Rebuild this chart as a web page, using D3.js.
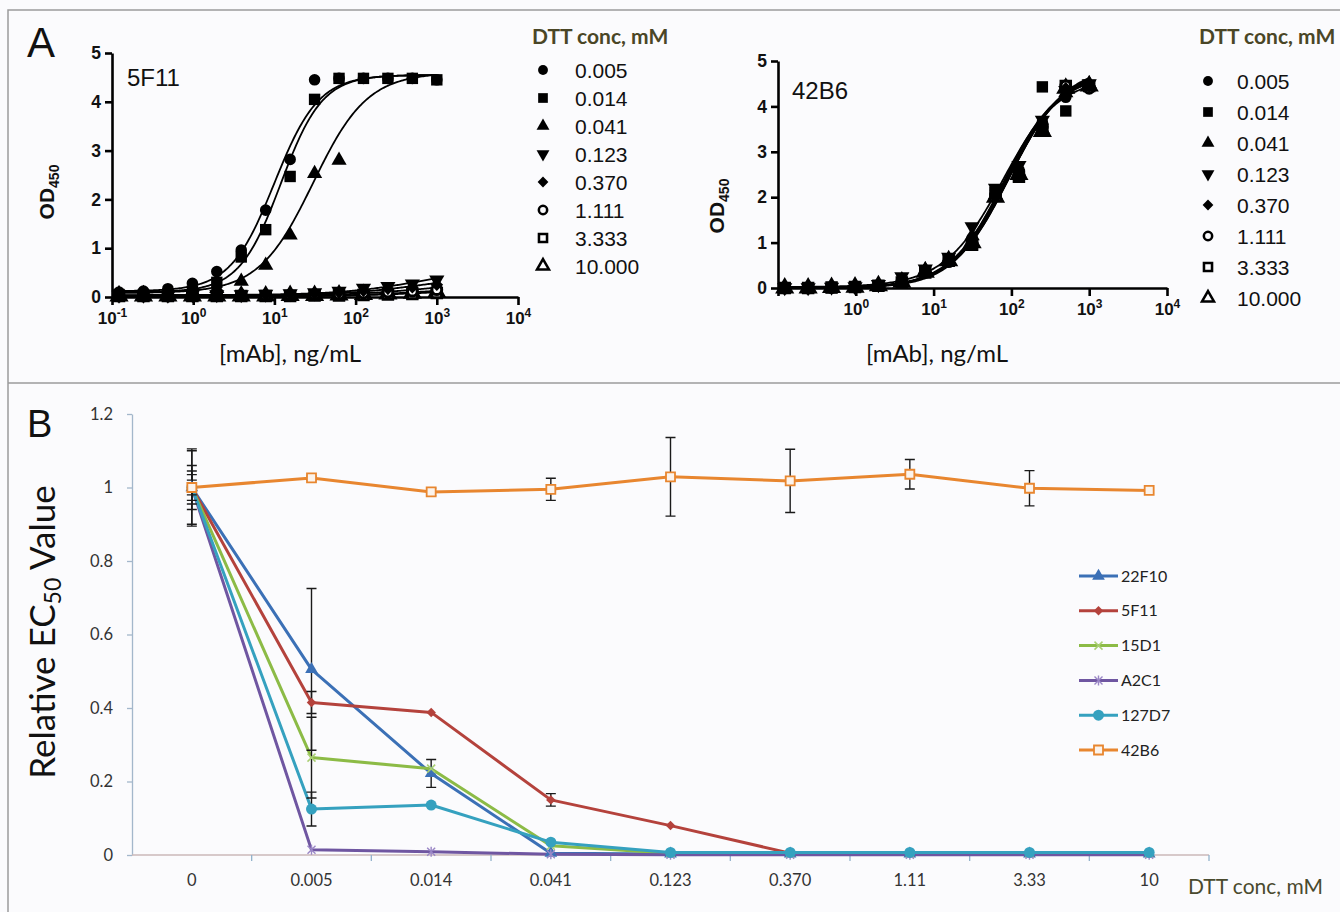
<!DOCTYPE html>
<html><head><meta charset="utf-8">
<script src="https://cdn.jsdelivr.net/npm/d3@7"></script>
<style>body{margin:0;background:#fbfbfd}svg{display:block}</style>
</head><body>
<svg id="c" width="1340" height="912"></svg>
<script>
// ---------------- DATA ----------------
// Panel A: antibody concentrations (ng/mL), 2-fold dilutions
const conc = [0.122, 0.244, 0.488, 0.977, 1.953, 3.906, 7.813, 15.625, 31.25, 62.5, 125, 250, 500, 1000];
const dttLabels = ["0.005", "0.014", "0.041", "0.123", "0.370", "1.111", "3.333", "10.000"];
const dttMarkers = ["circle", "square", "triangle", "triangleDown", "diamond", "openCircle", "openSquare", "openTriangle"];

// 5F11 OD450 values per DTT concentration (null = point hidden under another mark)
const f11_0005 = [0.10, 0.12, 0.17, 0.28, 0.52, 0.96, 1.78, 2.82, 4.45, 4.48, 4.48, 4.48, 4.48, 4.45];
const f11_0014 = [0.05, 0.05, 0.06, 0.12, 0.30, 0.82, 1.38, 2.47, 4.05, 4.48, 4.48, 4.48, 4.48, 4.45];
const f11_0041 = [0.06, 0.07, 0.09, 0.12, 0.17, 0.32, 0.65, 1.27, 2.53, 2.80, null, null, null, null];
const f11_0123 = [0.04, 0.04, 0.04, 0.05, 0.05, 0.05, 0.06, 0.07, 0.09, 0.12, 0.18, 0.22, 0.27, 0.35];
const f11_0370 = [0.03, 0.03, 0.03, 0.04, 0.04, 0.04, 0.05, 0.06, 0.07, 0.10, 0.13, 0.17, 0.20, 0.25];
const f11_1111 = [0.02, 0.02, 0.02, 0.03, 0.03, 0.03, 0.03, 0.04, 0.05, 0.06, 0.08, 0.10, 0.12, 0.15];
const f11_3333 = [0.02, 0.02, 0.02, 0.02, 0.02, 0.02, 0.02, 0.02, 0.03, 0.03, 0.04, 0.05, 0.06, 0.08];
const f11_10000 = [0.02, 0.02, 0.02, 0.02, 0.02, 0.02, 0.02, 0.03, 0.03, 0.04, 0.05, 0.06, 0.08, 0.10];
// 4-parameter logistic fits [bottom, top, EC50, hill]
const f11_fits = [[0.12, 4.55, 10, 1.6], [0.10, 4.55, 12, 1.7], [0.08, 4.6, 30, 1.3], [0.04, 0.6, 600, 0.9],
                  [0.03, 0.45, 600, 0.9], [0.02, 0.3, 600, 0.9], [0.01, 0.15, 600, 0.9], [0.01, 0.2, 600, 0.9]];

// 42B6 OD450 values per DTT concentration
const b6_0005 = [0.00, 0.01, 0.01, 0.02, 0.06, 0.15, 0.38, 0.65, 1.10, 2.15, 2.60, 3.65, 4.20, 4.45];
const b6_0014 = [0.00, 0.00, 0.01, 0.02, 0.05, 0.12, 0.35, 0.60, 1.00, 2.10, 2.50, 4.43, 3.90, 4.45];
const b6_0041 = [0.00, 0.00, 0.01, 0.02, 0.06, 0.16, 0.40, 0.62, 1.15, 2.05, 2.55, 3.50, 4.30, 4.50];
const b6_0123 = [0.01, 0.01, 0.02, 0.03, 0.08, 0.25, 0.42, 0.68, 1.35, 2.20, 2.70, 3.70, 4.35, 4.50];
const b6_0370 = [0.00, 0.00, 0.01, 0.02, 0.06, 0.14, 0.36, 0.60, 1.05, 2.00, 2.60, 3.60, 4.40, 4.45];
const b6_1111 = [0.00, 0.00, 0.01, 0.02, 0.05, 0.13, 0.36, 0.58, 1.00, 2.05, 2.50, 3.55, 4.45, 4.40];
const b6_3333 = [0.00, 0.00, 0.01, 0.02, 0.05, 0.12, 0.34, 0.60, 0.95, 2.10, 2.45, 3.50, 4.45, 4.45];
const b6_10000 = [0.00, 0.00, 0.01, 0.02, 0.05, 0.13, 0.35, 0.60, 1.00, 2.00, 2.50, 3.45, 4.40, 4.45];
const b6_fits = [[0.0, 4.7, 80, 1.25], [0.0, 4.6, 80, 1.3], [0.0, 4.8, 85, 1.2], [0.02, 4.75, 78, 1.15],
                 [0.0, 4.8, 88, 1.2], [0.0, 4.85, 92, 1.2], [0.0, 4.9, 95, 1.2], [0.0, 4.85, 93, 1.2]];

// Panel B: relative EC50
const dttCats = ["0", "0.005", "0.014", "0.041", "0.123", "0.370", "1.11", "3.33", "10"];
const bNames = ["22F10", "5F11", "15D1", "A2C1", "127D7", "42B6"];
const rel22F10 = [1, 0.505, 0.222, 0.005, 0.003, 0.003, 0.003, 0.003, 0.003];
const err22F10 = [0.10, 0.22, 0.038, 0, 0, 0, 0, 0, 0];
const rel5F11 = [1, 0.415, 0.388, 0.150, 0.080, 0.005, 0.004, 0.004, 0.004];
const err5F11 = [0.06, 0.03, 0, 0.017, 0, 0, 0, 0, 0];
const rel15D1 = [1, 0.265, 0.235, 0.025, 0.005, 0.004, 0.004, 0.004, 0.004];
const err15D1 = [0.035, 0.11, 0, 0, 0, 0, 0, 0, 0];
const relA2C1 = [1, 0.014, 0.009, 0.002, 0.001, 0.001, 0.001, 0.001, 0.001];
const errA2C1 = [0.105, 0, 0, 0, 0, 0, 0, 0, 0];
const rel127D7 = [1, 0.125, 0.136, 0.035, 0.007, 0.007, 0.007, 0.007, 0.007];
const err127D7 = [0.045, 0.046, 0, 0, 0, 0, 0, 0, 0];
const rel42B6 = [1, 1.026, 0.988, 0.995, 1.029, 1.018, 1.036, 0.998, 0.992];
const err42B6 = [0.02, 0.005, 0.01, 0.03, 0.107, 0.086, 0.04, 0.048, 0];
const yTicksB = [0, 0.2, 0.4, 0.6, 0.8, 1, 1.2];

// ---------------- DRAW ----------------
const BG = "#fbfbfd";
const FA = "Arial, 'Liberation Sans', sans-serif";
const FC = "Lato, 'Open Sans', sans-serif";
const svg = d3.select("#c");
svg.append("rect").attr("width", 1340).attr("height", 912).attr("fill", BG);
svg.append("path").attr("d", "M8,912V10H1340M8,383H1340").attr("stroke", "#9c9c9c")
  .attr("stroke-width", 1.5).attr("fill", "none");

function fourPL(c, p) { return p[0] + (p[1] - p[0]) / (1 + Math.pow(p[2] / c, p[3])); }

function markerA(g, type, cx, cy, k) {
  k = k || 1;
  const open = type.startsWith("open");
  let sym, size, rot = 0;
  switch (type) {
    case "circle": sym = d3.symbolCircle; size = 105; break;
    case "square": sym = d3.symbolSquare; size = 130; break;
    case "triangle": sym = d3.symbolTriangle; size = 100; break;
    case "triangleDown": sym = d3.symbolTriangle; size = 100; rot = 180; break;
    case "diamond": sym = d3.symbolSquare; size = 80; rot = 45; break;
    case "openCircle": sym = d3.symbolCircle; size = 75; break;
    case "openSquare": sym = d3.symbolSquare; size = 90; break;
    case "openTriangle": sym = d3.symbolTriangle; size = 85; break;
  }
  g.append("path").attr("d", d3.symbol(sym, size * k * k)())
    .attr("transform", `translate(${cx},${cy}) rotate(${rot})`)
    .attr("fill", open ? BG : "#000").attr("stroke", open ? "#000" : "none")
    .attr("stroke-width", open ? 3 * k : 0);
}

function panelA(cfg) {
  const g = svg.append("g");
  const x = d3.scaleLog().domain([0.1, 10000]).range([cfg.x0, cfg.x1]);
  const y = d3.scaleLinear().domain([0, 5]).range([cfg.y0, cfg.y1]);
  // fitted curves
  const line = d3.line().x(d => x(d[0])).y(d => y(d[1]));
  cfg.fits.forEach(p => {
    const pts = d3.range(0, 241).map(i => { const c = Math.pow(10, -1 + i * 4 / 240); return [c, fourPL(c, p)]; });
    g.append("path").attr("d", line(pts)).attr("fill", "none").attr("stroke", "#000").attr("stroke-width", 1.8);
  });
  // axes
  const ya = g.append("g").attr("transform", `translate(${cfg.x0},0)`)
    .call(d3.axisLeft(y).tickValues([0, 1, 2, 3, 4, 5]).tickSize(7).tickSizeOuter(0).tickPadding(4).tickFormat(d3.format("d")));
  const xa = g.append("g").attr("transform", `translate(0,${cfg.y0})`)
    .call(d3.axisBottom(x).tickValues([0.1, 1, 10, 100, 1000, 10000]).tickSize(8).tickSizeOuter(0).tickFormat(""));
  [ya, xa].forEach(a => {
    a.select(".domain").attr("stroke", "#000").attr("stroke-width", 2.6);
    a.selectAll(".tick line").attr("stroke", "#000").attr("stroke-width", 2.6);
  });
  ya.selectAll("text").attr("font-family", FA).attr("font-weight", "bold").attr("font-size", 17.5).attr("fill", "#111");
  xa.selectAll(".tick").filter(d => cfg.xlabels.includes(d)).append("text")
    .attr("y", 27).attr("text-anchor", "middle").attr("fill", "#111")
    .attr("font-family", FA).attr("font-weight", "bold").attr("font-size", 17)
    .each(function (d) {
      const t = d3.select(this);
      t.append("tspan").text("10");
      t.append("tspan").attr("dy", -7).attr("font-size", 12).text(String(Math.round(Math.log10(d))));
    });
  // data points: open symbols first, filled symbols over them, squares on top
  [7, 6, 5, 4, 3, 2, 0, 1].forEach(s => {
    cfg.series[s].forEach((v, i) => { if (v !== null) markerA(g, dttMarkers[s], x(conc[i]), y(v), 1); });
  });
  // titles
  g.append("text").attr("x", cfg.tx).attr("y", cfg.ty).attr("font-family", FA).attr("font-size", 24).attr("fill", "#111").text(cfg.title);
  const yl = g.append("text").attr("transform", `translate(${cfg.ylx},${cfg.yly}) rotate(-90)`)
    .attr("text-anchor", "middle").attr("font-family", FA).attr("font-weight", "bold").attr("font-size", 21).attr("fill", "#111");
  yl.append("tspan").text("OD");
  yl.append("tspan").attr("font-size", 14).attr("dy", 5).text("450");
  g.append("text").attr("x", cfg.xlx).attr("y", 362).attr("text-anchor", "middle")
    .attr("font-family", FC).attr("font-size", 24).attr("fill", "#111").text("[mAb], ng/mL");
  // legend
  g.append("text").attr("x", cfg.lgx).attr("y", 44).attr("font-family", FC).attr("font-weight", "bold")
    .attr("font-size", 21).attr("fill", "#4a4626").text("DTT conc, mM");
  dttLabels.forEach((lab, i) => {
    const cy = cfg.lgy0 + i * cfg.lgdy;
    markerA(g, dttMarkers[i], cfg.lgmx, cy, 0.85);
    g.append("text").attr("x", cfg.lgtx).attr("y", cy + 7.5).attr("font-family", FA).attr("font-size", 21)
      .attr("fill", "#111").text(lab);
  });
}

panelA({
  x0: 112, x1: 518, y0: 297, y1: 53, xlabels: [0.1, 1, 10, 100, 1000, 10000],
  series: [f11_0005, f11_0014, f11_0041, f11_0123, f11_0370, f11_1111, f11_3333, f11_10000], fits: f11_fits,
  title: "5F11", tx: 127, ty: 86, ylx: 54, yly: 192, xlx: 290,
  lgx: 532, lgy0: 70, lgdy: 28, lgmx: 543, lgtx: 575
});
panelA({
  x0: 778, x1: 1167, y0: 288, y1: 61, xlabels: [1, 10, 100, 1000, 10000],
  series: [b6_0005, b6_0014, b6_0041, b6_0123, b6_0370, b6_1111, b6_3333, b6_10000], fits: b6_fits,
  title: "42B6", tx: 792, ty: 99, ylx: 724, yly: 206, xlx: 937,
  lgx: 1199, lgy0: 81, lgdy: 31, lgmx: 1208, lgtx: 1237
});

// panel letters
svg.append("text").attr("x", 27).attr("y", 57).attr("font-family", FA).attr("font-size", 42).attr("fill", "#111").text("A");
svg.append("text").attr("x", 27).attr("y", 437).attr("font-family", FA).attr("font-size", 38).attr("fill", "#111").text("B");

// ---------- Panel B ----------
const gB = svg.append("g");
const xb = d3.scaleBand().domain(dttCats).range([132, 1209]).paddingInner(0).paddingOuter(0);
const yb = d3.scaleLinear().domain([0, 1.2]).range([855, 414]);
const cx = c => xb(c) + xb.bandwidth() / 2;

const yaB = gB.append("g").attr("transform", "translate(132,0)")
  .call(d3.axisLeft(yb).tickValues(yTicksB).tickSize(5).tickSizeOuter(0).tickPadding(14).tickFormat(d3.format("~g")));
yaB.select(".domain").attr("stroke", "#a3b7cb").attr("stroke-width", 1.3);
yaB.selectAll(".tick line").attr("stroke", "#a3b7cb").attr("stroke-width", 1.3);
yaB.selectAll("text").attr("font-family", FC).attr("font-size", 16.5).attr("fill", "#333");

// x axis: line, ticks at category boundaries, labels at centers
gB.append("line").attr("x1", xb.range()[0]).attr("x2", xb.range()[1]).attr("y1", yb(0)).attr("y2", yb(0))
  .attr("stroke", "#cbb9b9").attr("stroke-width", 1.3);
dttCats.forEach((c, i) => {
  if (i > 0) gB.append("line").attr("x1", xb(c)).attr("x2", xb(c)).attr("y1", yb(0)).attr("y2", yb(0) + 6)
    .attr("stroke", "#92b2cc").attr("stroke-width", 1.3);
  gB.append("text").attr("x", cx(c)).attr("y", yb(0) + 31).attr("text-anchor", "middle")
    .attr("font-family", FC).attr("font-size", 16.5).attr("fill", "#333").text(c);
});
gB.append("line").attr("x1", xb.range()[1]).attr("x2", xb.range()[1]).attr("y1", yb(0)).attr("y2", yb(0) + 6)
  .attr("stroke", "#92b2cc").attr("stroke-width", 1.3);

const seriesB = [
  { name: bNames[0], color: "#3b70b6", mk: "tri", v: rel22F10, e: err22F10 },
  { name: bNames[1], color: "#b4423c", mk: "dia", v: rel5F11, e: err5F11 },
  { name: bNames[2], color: "#8cbb46", mk: "x", v: rel15D1, e: err15D1 },
  { name: bNames[3], color: "#6f56a1", mk: "ast", v: relA2C1, e: errA2C1 },
  { name: bNames[4], color: "#35a1bf", mk: "cir", v: rel127D7, e: err127D7 },
  { name: bNames[5], color: "#e8862f", mk: "sq", v: rel42B6, e: err42B6 }
];

function markerB(g, s, x, y) {
  const t = `translate(${x},${y})`;
  if (s.mk === "tri") g.append("path").attr("d", d3.symbol(d3.symbolTriangle, 70)()).attr("transform", t).attr("fill", s.color);
  else if (s.mk === "dia") g.append("path").attr("d", d3.symbol(d3.symbolSquare, 45)()).attr("transform", t + " rotate(45)").attr("fill", s.color);
  else if (s.mk === "x") g.append("path").attr("d", "M-4,-4L4,4M-4,4L4,-4").attr("transform", t).attr("stroke", "#a9cf72").attr("stroke-width", 1.5).attr("fill", "none");
  else if (s.mk === "ast") g.append("path").attr("d", "M-4,-4L4,4M-4,4L4,-4M0,-5V5").attr("transform", t).attr("stroke", "#9a86c6").attr("stroke-width", 1.4).attr("fill", "none");
  else if (s.mk === "cir") g.append("circle").attr("cx", x).attr("cy", y).attr("r", 5.5).attr("fill", s.color);
  else if (s.mk === "sq") g.append("path").attr("d", d3.symbol(d3.symbolSquare, 81)()).attr("transform", t).attr("fill", "#fbf3ec").attr("stroke", s.color).attr("stroke-width", 1.8);
}

const lineB = d3.line().x((d, i) => cx(dttCats[i])).y(d => yb(d));
seriesB.forEach(s => {
  gB.append("path").attr("d", lineB(s.v)).attr("fill", "none").attr("stroke", s.color)
    .attr("stroke-width", 3).attr("stroke-linejoin", "round");
});
seriesB.forEach(s => {
  s.v.forEach((v, i) => {
    if (!s.e[i]) return;
    const x = cx(dttCats[i]), y1 = yb(v + s.e[i]), y2 = yb(Math.max(0, v - s.e[i]));
    gB.append("path").attr("d", `M${x},${y1}V${y2}M${x - 5},${y1}H${x + 5}M${x - 5},${y2}H${x + 5}`)
      .attr("stroke", "#1a1a1a").attr("stroke-width", 1.4).attr("fill", "none");
  });
});
seriesB.forEach(s => s.v.forEach((v, i) => markerB(gB, s, cx(dttCats[i]), yb(v))));

// legend B
seriesB.forEach((s, i) => {
  const y = 576 + i * 34.8;
  gB.append("line").attr("x1", 1079).attr("x2", 1118).attr("y1", y).attr("y2", y).attr("stroke", s.color).attr("stroke-width", 3);
  markerB(gB, s, 1098.5, y);
  gB.append("text").attr("x", 1121).attr("y", y + 5.5).attr("font-family", FC).attr("font-size", 16).attr("fill", "#222").text(s.name);
});

// axis titles B
const ylB = gB.append("text").attr("transform", "translate(55,632) rotate(-90)").attr("text-anchor", "middle")
  .attr("font-family", FC).attr("font-size", 35).attr("fill", "#111");
ylB.append("tspan").text("Relative EC");
ylB.append("tspan").attr("font-size", 23).attr("dy", 6).text("50");
ylB.append("tspan").attr("dy", -6).text(" Value");
gB.append("text").attr("x", 1188).attr("y", 894).attr("font-family", FC).attr("font-size", 21)
  .attr("fill", "#4a4a2e").text("DTT conc, mM");
</script>
</body></html>
